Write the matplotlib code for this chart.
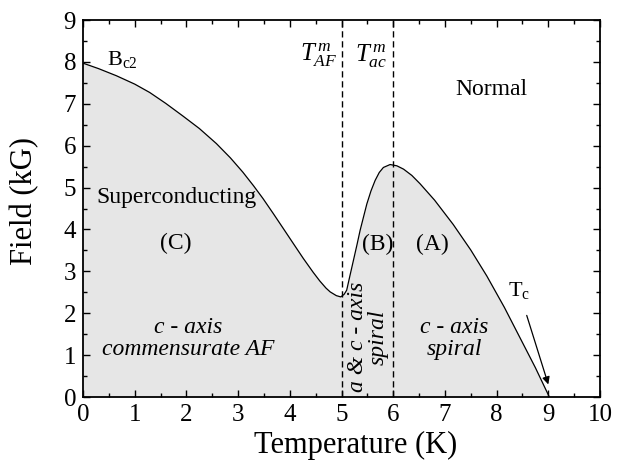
import matplotlib
matplotlib.use('Agg')
import matplotlib.pyplot as plt
from matplotlib.ticker import MultipleLocator

plt.rcParams['font.family'] = ['Liberation Serif', 'DejaVu Serif']
plt.rcParams['mathtext.fontset'] = 'custom'
plt.rcParams['mathtext.rm'] = 'Liberation Serif'
plt.rcParams['mathtext.it'] = 'Liberation Serif:italic'

# upper critical field Bc2(T)
temp = [0.0, 0.3, 0.645, 1.0, 1.29, 1.6, 1.93, 2.25, 2.58, 2.85, 3.09, 3.3, 3.48, 3.68,
        3.87, 4.07, 4.26, 4.45, 4.58, 4.7, 4.78, 4.9, 4.985, 5.05, 5.1, 5.16, 5.23, 5.3,
        5.36, 5.43, 5.49, 5.57, 5.65, 5.73, 5.81, 5.94, 6.07, 6.2, 6.36, 6.52, 6.8, 7.16,
        7.5, 7.81, 8.15, 8.45, 8.75, 9.02]
field = [7.97, 7.84, 7.67, 7.47, 7.27, 7.01, 6.71, 6.41, 6.05, 5.71, 5.37, 5.04, 4.74, 4.38,
         4.03, 3.66, 3.31, 2.98, 2.77, 2.60, 2.51, 2.42, 2.39, 2.45, 2.55, 2.88, 3.26, 3.64,
         3.98, 4.32, 4.61, 4.92, 5.17, 5.36, 5.48, 5.55, 5.52, 5.44, 5.29, 5.09, 4.70, 4.12,
         3.51, 2.89, 2.14, 1.42, 0.70, 0.0]

t_af = 5.0   # T_AF^m
t_ac = 6.0   # T_ac^m
t_c = 9.02

line_color = 'black'
fill_color = '#e6e6e6'

fig = plt.figure(figsize=(6.21, 4.69), dpi=100)
ax = fig.add_axes([0.1337, 0.1535, 0.8325, 0.8038])

ax.fill_between(temp, field, 0, color=fill_color, linewidth=0, zorder=1)
ax.plot(temp, field, color=line_color, linewidth=0.9, zorder=3)

for tx in (t_af, t_ac):
    ax.axvline(tx, color=line_color, linewidth=1.0, linestyle=(0, (4.5, 2.7)), zorder=2)

ax.text(0.47, 8.05, r'$\mathrm{B_{c2}}$', fontsize=16, ha='left', va='center')
ax.text(4.55, 8.15, r'$T_{AF}^{\,m}$', fontsize=18, ha='center', va='center')
ax.text(5.57, 8.15, r'$T_{ac}^{\,m}$', fontsize=18, ha='center', va='center')
ax.text(7.9, 7.33, 'Normal', fontsize=17, ha='center', va='center')
ax.text(1.8, 4.76, 'Superconducting', fontsize=17, ha='center', va='center')
ax.text(1.8, 3.67, '(C)', fontsize=17, ha='center', va='center')
ax.text(5.69, 3.65, '(B)', fontsize=17, ha='center', va='center')
ax.text(6.76, 3.65, '(A)', fontsize=17, ha='center', va='center')
ax.text(2.04, 1.4, 'c - axis\ncommensurate AF', fontsize=17, style='italic',
        ha='center', va='center', multialignment='center', linespacing=1.1)
ax.text(7.18, 1.4, 'c - axis\nspiral', fontsize=17, style='italic',
        ha='center', va='center', multialignment='center', linespacing=1.1)
ax.text(5.51, 1.43, 'a & c - axis\nspiral', fontsize=17, style='italic', rotation=90,
        ha='center', va='center', multialignment='center', linespacing=0.95)

ax.annotate(r'$\mathrm{T_c}$', xy=(t_c - 0.02, 0.3), xytext=(8.43, 2.55), fontsize=16,
            ha='center', va='center',
            arrowprops=dict(arrowstyle='-|>', color=line_color, lw=0.9,
                            mutation_scale=11, shrinkA=9, shrinkB=0))

ax.set_xlim(0, 10)
ax.set_ylim(0, 9)
ax.xaxis.set_major_locator(MultipleLocator(1))
ax.xaxis.set_minor_locator(MultipleLocator(0.5))
ax.yaxis.set_major_locator(MultipleLocator(1))
ax.yaxis.set_minor_locator(MultipleLocator(0.5))
ax.tick_params(which='both', direction='in', top=True, right=True, width=1.0, colors='black')
ax.tick_params(which='major', length=5, labelsize=18, pad=5)
ax.tick_params(which='minor', length=3)
for sp in ax.spines.values():
    sp.set_linewidth(1.3)

ax.set_xlabel('Temperature (K)', fontsize=22)
ax.set_ylabel('Field (kG)', fontsize=22)
ax.xaxis.set_label_coords(0.528, -0.09)
ax.yaxis.set_label_coords(-0.085, 0.52)

fig.savefig('out.png', dpi=100)
